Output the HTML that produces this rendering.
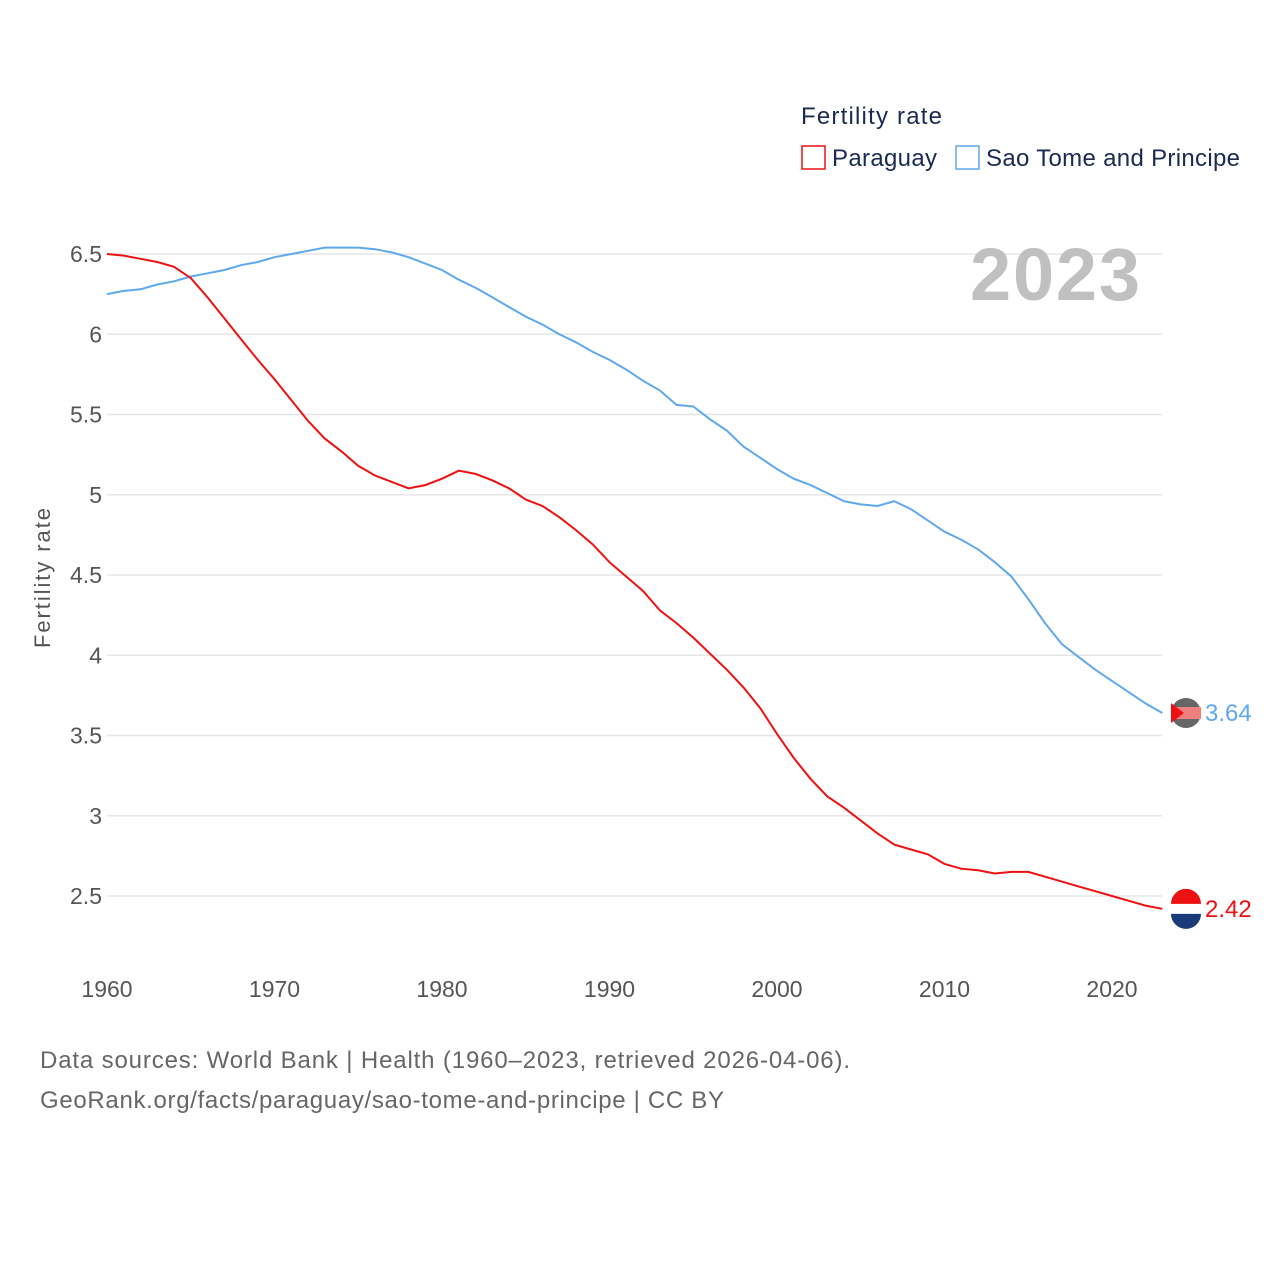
<!DOCTYPE html>
<html><head><meta charset="utf-8"><style>
body{margin:0;background:#fff;font-family:"Liberation Sans",sans-serif}
svg text{font-family:"Liberation Sans",sans-serif}
</style></head><body>
<svg width="1280" height="1280" viewBox="0 0 1280 1280">
<g id="grid"></g>
<g id="lines"></g>
<text x="801" y="124" font-size="24" fill="#1a2a52" textLength="141">Fertility rate</text>
<rect x="802" y="146" width="23" height="23" fill="none" stroke="#ee1111" stroke-width="1.5"/>
<text x="832" y="166" font-size="24" fill="#1a2a52" textLength="105">Paraguay</text>
<rect x="956" y="146" width="23" height="23" fill="none" stroke="#5ea8ee" stroke-width="1.5"/>
<text x="986" y="166" font-size="24" fill="#1a2a52" textLength="254">Sao Tome and Principe</text>
<text x="970" y="300" font-size="74" font-weight="bold" fill="#c0c0c0" textLength="170">2023</text>
<text transform="translate(50,578) rotate(-90)" font-size="22" fill="#555" text-anchor="middle" textLength="140">Fertility rate</text>
<text x="40" y="1068" font-size="24" fill="#666" textLength="810">Data sources: World Bank | Health (1960–2023, retrieved 2026-04-06).</text>
<text x="40" y="1108" font-size="24" fill="#666" textLength="684">GeoRank.org/facts/paraguay/sao-tome-and-principe | CC BY</text>
</svg>
<script>
const years=[];for(let y=1960;y<=2023;y++)years.push(y);
const paraguay=[6.50,6.49,6.47,6.45,6.42,6.35,6.23,6.10,5.97,5.84,5.72,5.59,5.46,5.35,5.27,5.18,5.12,5.08,5.04,5.06,5.10,5.15,5.13,5.09,5.04,4.97,4.93,4.86,4.78,4.69,4.58,4.49,4.40,4.28,4.20,4.11,4.01,3.91,3.80,3.67,3.51,3.36,3.23,3.12,3.05,2.97,2.89,2.82,2.79,2.76,2.70,2.67,2.66,2.64,2.65,2.65,2.62,2.59,2.56,2.53,2.50,2.47,2.44,2.42];
const saoTome=[6.25,6.27,6.28,6.31,6.33,6.36,6.38,6.40,6.43,6.45,6.48,6.50,6.52,6.54,6.54,6.54,6.53,6.51,6.48,6.44,6.40,6.34,6.29,6.23,6.17,6.11,6.06,6.00,5.95,5.89,5.84,5.78,5.71,5.65,5.56,5.55,5.47,5.40,5.30,5.23,5.16,5.10,5.06,5.01,4.96,4.94,4.93,4.96,4.91,4.84,4.77,4.72,4.66,4.58,4.49,4.35,4.20,4.07,3.99,3.91,3.84,3.77,3.70,3.64];
const yTicks=[2.5,3,3.5,4,4.5,5,5.5,6,6.5];
const xTicks=[1960,1970,1980,1990,2000,2010,2020];
const X=y=>107+(y-1960)*16.75;
const Y=v=>896-(v-2.5)*160.5;
const NS="http://www.w3.org/2000/svg";
const grid=document.getElementById('grid'),lines=document.getElementById('lines');
function mk(tag,attrs,parent,txt){const e=document.createElementNS(NS,tag);for(const k in attrs)e.setAttribute(k,attrs[k]);if(txt!==undefined)e.textContent=txt;parent.appendChild(e);return e;}
yTicks.forEach(t=>{
 const l=mk('line',{x1:107,x2:1162,y1:Y(t),y2:Y(t),stroke:'#e6e6e6','stroke-width':1.5},grid);
 
 
 const tx=mk('text',{x:102,y:Y(t)+8,'font-size':23,fill:'#555','text-anchor':'end'},grid,String(t));
 
 
});
xTicks.forEach(t=>{
 const tx=mk('text',{x:X(t),y:997,'font-size':23,fill:'#555','text-anchor':'middle'},grid,String(t));
 
 
});
function series(vals,color,name,flag){
 const d=vals.map((v,i)=>(i?'L':'M')+X(years[i]).toFixed(1)+','+Y(v).toFixed(1)).join('');
 const p=mk('path',{d:d,fill:'none',stroke:color,'stroke-width':2},lines);
 
 
 const last=vals[vals.length-1],cy=Y(last);
 const g=mk('g',{},lines);
 
 
 if(flag==='py'){
  mk('circle',{cx:1186,cy:cy,r:15,fill:'#fff'},g);
  mk('path',{d:`M1171,${cy-5}A15,15 0 0 1 1201,${cy-5}Z`,fill:'#e11'},g);
  mk('path',{d:`M1171,${cy+5}A15,15 0 0 0 1201,${cy+5}Z`,fill:'#1a3a7a'},g);
 }else{
  mk('circle',{cx:1186,cy:cy,r:15,fill:'#666'},g);
  mk('rect',{x:1171,y:cy-6,width:30,height:12,fill:'#f08080'},g);
  mk('path',{d:`M1171,${cy-10}L1184,${cy}L1171,${cy+10}Z`,fill:'#e11'},g);
 }
 const t=mk('text',{x:1205,y:cy+8,'font-size':24,fill:color},lines,last.toFixed(2));
 
 
}
series(saoTome,'#5ea8ee','sao-tome','st');
series(paraguay,'#ee1111','paraguay','py');
</script>
</body></html>
